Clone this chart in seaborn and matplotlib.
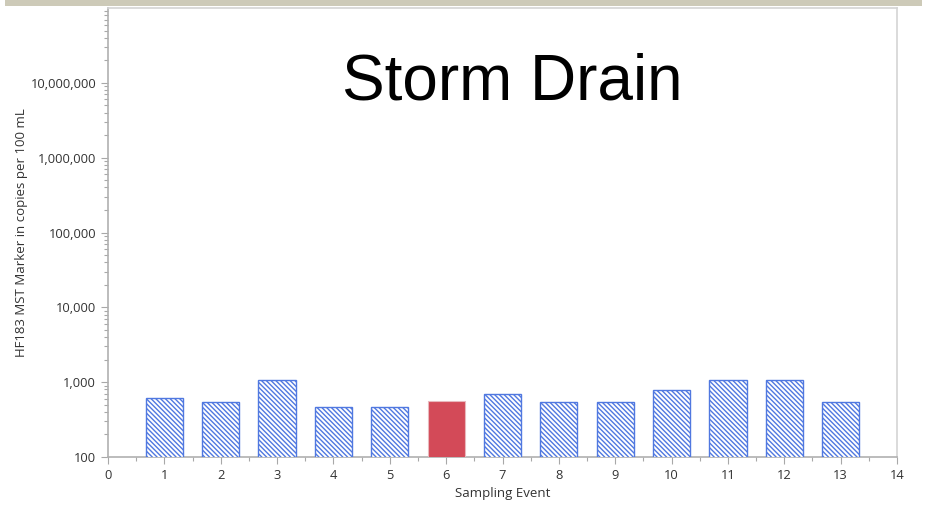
import matplotlib
matplotlib.use("Agg")
import matplotlib.pyplot as plt
from matplotlib.patches import Rectangle
from matplotlib.ticker import FixedLocator, FuncFormatter, LogLocator, NullFormatter
import seaborn as sns
import pandas as pd

# HF183 results per sampling event (copies per 100 mL)
events = [1, 2, 3, 4, 5, 6, 7, 8, 9, 10, 11, 12, 13]
hf183 = [610, 545, 1070, 465, 465, 560, 690, 545, 545, 780, 1070, 1070, 545]
status = ["below", "below", "below", "below", "below", "detect", "below",
          "below", "below", "below", "below", "below", "below"]
x_ticks = list(range(0, 15))
y_ticks = [100, 1_000, 10_000, 100_000, 1_000_000, 10_000_000]
title = "Storm Drain"

df = pd.DataFrame({"event": events, "hf183": hf183, "status": status})

sns.set_theme(style="white")
plt.rcParams["font.family"] = ["Open Sans", "DejaVu Sans"]
plt.rcParams["hatch.linewidth"] = 1.0

fig = plt.figure(figsize=(9.32, 5.05), dpi=100)
ax = fig.add_axes([108 / 932, 48 / 505, 789 / 932, 449 / 505])

# header strip
fig.patches.append(Rectangle((5 / 932, 1 - 6 / 505), 917 / 932, 6 / 505,
                             transform=fig.transFigure, facecolor="#cdcab8",
                             edgecolor="none", zorder=0))

sns.barplot(data=df, x="event", y="hf183", native_scale=True, width=0.66,
            color="white", ax=ax, zorder=3)
ax.set_yscale("log")

blue = "#5078e0"
red = "#d34a58"
for patch, st in zip(ax.patches, status):
    if st == "detect":
        patch.set_facecolor(red)
        patch.set_edgecolor("#e8b8bd")
        patch.set_linewidth(0.8)
        patch.set_hatch(None)
    else:
        patch.set_facecolor("white")
        patch.set_edgecolor(blue)
        patch.set_linewidth(1.0)
        patch.set_hatch("\\" * 7)

ax.set_xlim(0, 14)
ax.set_ylim(100, 1e8)
ax.xaxis.set_major_locator(FixedLocator(x_ticks))
ax.xaxis.set_minor_locator(FixedLocator([t + 0.5 for t in x_ticks[:-1]]))
ax.yaxis.set_major_locator(FixedLocator(y_ticks))
ax.yaxis.set_minor_locator(LogLocator(base=10, subs=range(2, 10)))
ax.yaxis.set_minor_formatter(NullFormatter())
ax.yaxis.set_major_formatter(FuncFormatter(lambda v, p: f"{int(round(v)):,}"))

ax.tick_params(axis="both", which="both", direction="out", color="#a8a8a8",
               labelsize=9.3, labelcolor="#333333")
ax.tick_params(axis="both", which="major", length=5, width=0.8)
ax.tick_params(axis="both", which="minor", length=3, width=0.8)
ax.tick_params(axis="x", which="both", bottom=True)
ax.tick_params(axis="y", which="both", left=True)

for side in ["left", "bottom"]:
    ax.spines[side].set_color("#b0b0b0")
    ax.spines[side].set_linewidth(1.2)
for side in ["top", "right"]:
    ax.spines[side].set_visible(True)
    ax.spines[side].set_color("#d4d4d4")
    ax.spines[side].set_linewidth(1.2)

ax.set_xlabel("Sampling Event", fontsize=9.5, color="#333333", labelpad=4)
ax.set_ylabel("HF183 MST Marker in copies per 100 mL", fontsize=9.5,
              color="#333333", labelpad=2)

fig.text(512 / 932, 1 - 82 / 505, title, ha="center", va="center",
         fontsize=46, family="Liberation Sans", color="black")

fig.savefig("out.png", dpi=100)
